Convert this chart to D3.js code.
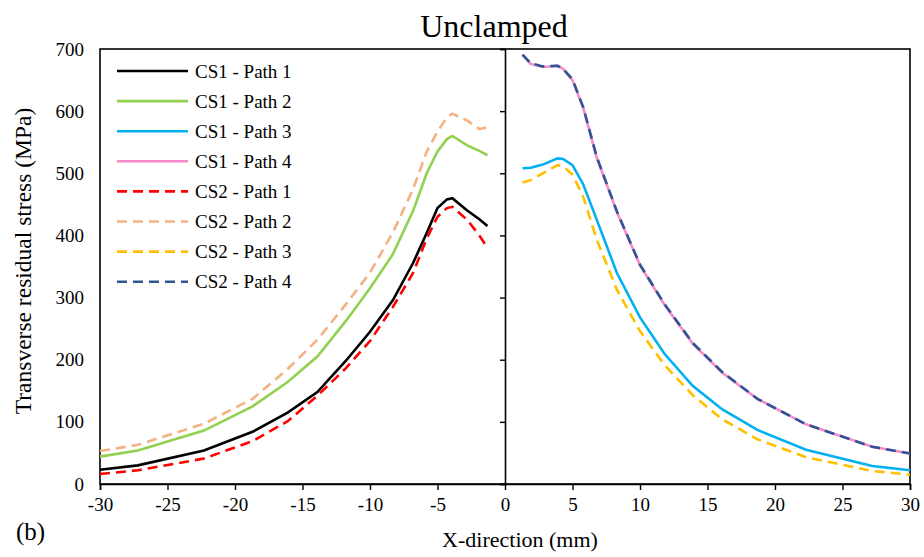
<!DOCTYPE html>
<html>
<head>
<meta charset="utf-8">
<script src="https://cdn.jsdelivr.net/npm/d3@7"></script>
<style>
  body { margin: 0; background: #fff; }
  svg text { font-family: "Times New Roman", Times, "Liberation Serif", "DejaVu Serif", serif; fill: #000; }
</style>
</head>
<body>
<script>
// chart size
const width = 924;
const height = 557;
const margin = { top: 49, right: 14, bottom: 73, left: 100 };
const serifFont = '"Times New Roman", Times, "Liberation Serif", "DejaVu Serif", serif';

// data
const xLeft = [-30, -27.2, -22.3, -18.7, -16.1, -13.9, -11.8, -10, -8.3, -6.8, -5.8, -5.0, -4.3, -3.9, -2.8, -1.9, -1.3];
const xRight = [1.3, 1.9, 2.8, 3.9, 4.3, 5.0, 5.8, 6.8, 8.3, 10, 11.8, 13.9, 16.1, 18.7, 22.3, 27.2, 30];

const cs1Path1 = [23, 30, 54, 84, 115, 148, 198, 245, 296, 356, 404, 444, 458, 460, 440, 426, 415];
const cs1Path2 = [44, 54, 86, 125, 164, 205, 262, 315, 370, 440, 500, 535, 555, 560, 545, 536, 529];
const cs1Path3 = [508, 509, 514, 524, 523, 513, 482, 425, 339, 268, 210, 158, 120, 87, 55, 29, 22];
const cs1Path4 = [690, 676, 671, 673, 668, 650, 605, 525, 437, 352, 289, 226, 179, 137, 96, 60, 49];
const cs2Path1 = [16, 22, 41, 69, 101, 142, 186, 230, 285, 340, 395, 430, 444, 446, 425, 400, 380];
const cs2Path2 = [53, 63, 97, 137, 185, 232, 289, 340, 405, 475, 535, 567, 590, 596, 585, 571, 574];
const cs2Path3 = [485, 489, 500, 513, 511, 498, 462, 393, 312, 246, 192, 143, 104, 72, 43, 21, 15];
const cs2Path4 = [691, 677, 672, 673, 668, 651, 606, 526, 438, 353, 290, 227, 180, 137, 96, 60, 49];

const xTicks = [-30, -25, -20, -15, -10, -5, 0, 5, 10, 15, 20, 25, 30];
const yTicks = [0, 100, 200, 300, 400, 500, 600, 700];

const series = [
  { name: 'CS1 - Path 1', xs: xLeft, ys: cs1Path1, color: '#000000', dash: null },
  { name: 'CS1 - Path 2', xs: xLeft, ys: cs1Path2, color: '#92d050', dash: null },
  { name: 'CS1 - Path 3', xs: xRight, ys: cs1Path3, color: '#00b0f0', dash: null },
  { name: 'CS1 - Path 4', xs: xRight, ys: cs1Path4, color: '#f78ac8', dash: null },
  { name: 'CS2 - Path 1', xs: xLeft, ys: cs2Path1, color: '#ff0000', dash: '10,6' },
  { name: 'CS2 - Path 2', xs: xLeft, ys: cs2Path2, color: '#f4b183', dash: '10,6' },
  { name: 'CS2 - Path 3', xs: xRight, ys: cs2Path3, color: '#ffc000', dash: '10,6' },
  { name: 'CS2 - Path 4', xs: xRight, ys: cs2Path4, color: '#2f5597', dash: '10,6' }
];

const svg = d3.select('body').append('svg')
    .attr('width', width)
    .attr('height', height);

const innerW = width - margin.left - margin.right;
const innerH = height - margin.top - margin.bottom;

const g = svg.append('g')
    .attr('transform', `translate(${margin.left},${margin.top})`);

const xScale = d3.scaleLinear().domain([-30, 30]).range([0, innerW]);
const yScale = d3.scaleLinear().domain([0, 700]).range([innerH, 0]);

// frame
g.append('rect')
    .attr('width', innerW)
    .attr('height', innerH)
    .attr('fill', 'none')
    .attr('stroke', '#000')
    .attr('stroke-width', 1.6);

// y labels on the left
const yAxisLeft = g.append('g')
    .call(d3.axisLeft(yScale).tickValues(yTicks).tickSize(0).tickPadding(16));
yAxisLeft.select('.domain').remove();
yAxisLeft.attr('font-family', serifFont).attr('font-size', 19);

// vertical axis at x = 0 with tick marks
const yAxisMid = g.append('g')
    .attr('transform', `translate(${xScale(0)},0)`)
    .call(d3.axisLeft(yScale).tickValues(yTicks).tickSize(5).tickFormat(''));
yAxisMid.select('.domain').attr('stroke-width', 1.6);
yAxisMid.selectAll('line').attr('stroke-width', 1.4);

// bottom axis, plain hyphen for negatives
const xAxis = g.append('g')
    .attr('transform', `translate(0,${innerH})`)
    .call(d3.axisBottom(xScale).tickValues(xTicks).tickSize(6).tickPadding(8).tickFormat(d => String(d)));
xAxis.select('.domain').attr('stroke-width', 1.6);
xAxis.selectAll('line').attr('stroke-width', 1.4);
xAxis.attr('font-family', serifFont).attr('font-size', 19);

// lines
const line = d3.line()
    .x(d => xScale(d[0]))
    .y(d => yScale(d[1]));

series.forEach(s => {
    g.append('path')
        .datum(s.xs.map((x, i) => [x, s.ys[i]]))
        .attr('d', line)
        .attr('fill', 'none')
        .attr('stroke', s.color)
        .attr('stroke-width', 2.6)
        .attr('stroke-dasharray', s.dash);
});

// legend
const legend = svg.append('g')
    .attr('transform', 'translate(117,71)');

const legendItems = legend.selectAll('.legend-item')
    .data(series)
    .enter()
    .append('g')
    .attr('class', 'legend-item')
    .attr('transform', (d, i) => `translate(0,${i * 30.1})`);

legendItems.append('line')
    .attr('x1', 0)
    .attr('x2', 71)
    .attr('stroke', d => d.color)
    .attr('stroke-width', 2.6)
    .attr('stroke-dasharray', d => d.dash);

legendItems.append('text')
    .attr('x', 78)
    .attr('dy', '0.35em')
    .style('font-size', '19px')
    .text(d => d.name);

// titles
svg.append('text')
    .attr('x', 494)
    .attr('y', 37)
    .attr('text-anchor', 'middle')
    .style('font-size', '32px')
    .text('Unclamped');

svg.append('text')
    .attr('x', 520)
    .attr('y', 547)
    .attr('text-anchor', 'middle')
    .style('font-size', '22px')
    .text('X-direction (mm)');

svg.append('text')
    .attr('transform', 'translate(31,261) rotate(-90)')
    .attr('text-anchor', 'middle')
    .style('font-size', '23.5px')
    .text('Transverse residual stress (MPa)');

svg.append('text')
    .attr('x', 16)
    .attr('y', 540)
    .style('font-size', '25px')
    .text('(b)');
</script>
</body>
</html>
